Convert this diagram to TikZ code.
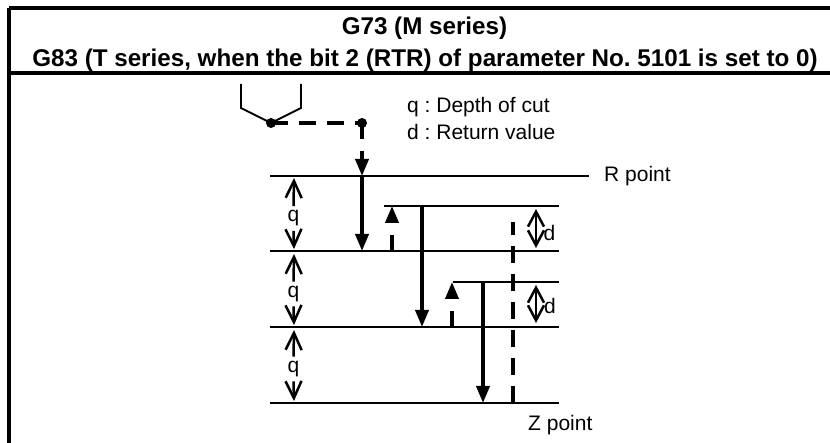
\documentclass[tikz,border=0pt]{standalone}
\usepackage{fontspec}
\setmainfont{Liberation Sans}
\usetikzlibrary{arrows.meta}
\frenchspacing
\tikzset{
  frameline/.style={line width=3.5pt},
  level/.style={line width=2pt},
  feed/.style={line width=3.7pt,-{Triangle[length=17pt,width=13pt]}},
  rapid/.style={line width=3.7pt,-{Triangle[length=17pt,width=13pt]},dash pattern=on 16pt off 40pt},
  gap/.style={line width=2.5pt,-{Straight Barb[length=17pt,width=16pt]}},
  gapboth/.style={line width=2.5pt,{Straight Barb[length=15pt,width=16pt]}-{Straight Barb[length=15pt,width=16pt]}},
  dot/.style={circle,fill=black,inner sep=0pt,minimum size=10pt},
  lbl/.style={font=\fontsize{21}{24}\selectfont,inner sep=0pt},
  head/.style={font=\fontsize{24.2}{28}\bfseries\selectfont,inner sep=0pt,anchor=base}
}
\begin{document}
\begin{tikzpicture}[x=1pt,y=-1pt]
    \useasboundingbox (0,0) rectangle (830,443);
    % frame
    \coordinate (ftl) at (9,8);
    \coordinate (ftr) at (830,8);
    \coordinate (fml) at (9,73);
    \coordinate (fmr) at (830,73);
    \coordinate (fbl) at (9,443);
    \draw[frameline] (ftl)--(ftr);
    \draw[frameline] (fml)--(fmr);
    \draw[frameline] (ftl)--(fbl);
    \node[head] (title1) at (424.5,35) {G73 (M series)};
    \node[head] (title2) at (425,67) {G83 (T series, when the bit 2 (RTR) of parameter No. 5101 is set to 0)};
    % tool
    \node[dot] (tip) at (271,123) {};
    \node[dot] (start) at (362,123) {};
    \coordinate (tl) at (241,84);
    \coordinate (tls) at (241,108);
    \coordinate (tr) at (301,84);
    \coordinate (trs) at (301,108);
    \draw[line width=1.8pt] (tl)--(tls)--(tip.center)--(trs)--(tr);
    \draw[line width=3.7pt,dash pattern=on 17pt off 11pt] (tip.center)--(start.center);
    % levels
    \coordinate (r0) at (270,176);
    \coordinate (r1) at (589,176);
    \coordinate (a0) at (270,251);
    \coordinate (a1) at (559,251);
    \coordinate (b0) at (270,327);
    \coordinate (b1) at (559,327);
    \coordinate (z0) at (270,403);
    \coordinate (z1) at (559,403);
    \coordinate (c0) at (384,206);
    \coordinate (c1) at (559,206);
    \coordinate (e0) at (453,282);
    \coordinate (e1) at (559,282);
    \draw[level] (r0)--(r1);
    \draw[level] (a0)--(a1);
    \draw[level] (b0)--(b1);
    \draw[level] (z0)--(z1);
    \draw[level] (c0)--(c1);
    \draw[level] (e0)--(e1);
    % tool path
    \coordinate (rp) at (362,176);
    \coordinate (ap) at (362,251);
    \draw[line width=3.7pt,-{Triangle[length=17pt,width=13pt]},dash pattern=on 16pt off 12pt on 40pt] (start.center)--(rp);
    \draw[feed] (rp)--(ap);
    \coordinate (u1) at (392,251);
    \coordinate (u1t) at (392,206);
    \draw[rapid] (u1)--(u1t);
    \coordinate (f2) at (422,206);
    \coordinate (f2e) at (422,327);
    \draw[feed] (f2)--(f2e);
    \coordinate (u2) at (452,327);
    \coordinate (u2t) at (452,282);
    \draw[rapid] (u2)--(u2t);
    \coordinate (f3) at (483,282);
    \coordinate (f3e) at (483,403);
    \draw[feed] (f3)--(f3e);
    \coordinate (ret0) at (513,403);
    \coordinate (ret1) at (513,222);
    \draw[line width=3.7pt,dash pattern=on 17pt off 11pt] (ret0)--(ret1);
    % q dimensions
    \node[lbl,outer sep=4.5pt] (q1) at (293.5,218.5) {q};
    \node[lbl,outer sep=4.5pt] (q2) at (293.5,294) {q};
    \node[lbl,outer sep=4.5pt] (q3) at (293.5,369) {q};
    \draw[gap] (q1.north)--(294,178);
    \draw[gap] (q1.south)--(294,249);
    \draw[gap] (q2.north)--(294,254);
    \draw[gap] (q2.south)--(294,325);
    \draw[gap] (q3.north)--(294,330);
    \draw[gap] (q3.south)--(294,401);
    % d dimensions
    \coordinate (d1t) at (536,209);
    \coordinate (d1b) at (536,248);
    \coordinate (d2t) at (536,285);
    \coordinate (d2b) at (536,323);
    \draw[gapboth] (d1t)--(d1b);
    \draw[gapboth] (d2t)--(d2b);
    \node[lbl] (d1) at (549.5,232.5) {d};
    \node[lbl] (d2) at (550,305.5) {d};
    % labels
    \node[lbl,anchor=base west] (qtext) at (407,113) {q : Depth of cut};
    \node[lbl,anchor=base west] (dtext) at (407,140) {d : Return value};
    \node[lbl,anchor=base west] (rtext) at (604,182) {R point};
    \node[lbl,anchor=base west] (ztext) at (528,431) {Z point};
  \end{tikzpicture}
\end{document}
